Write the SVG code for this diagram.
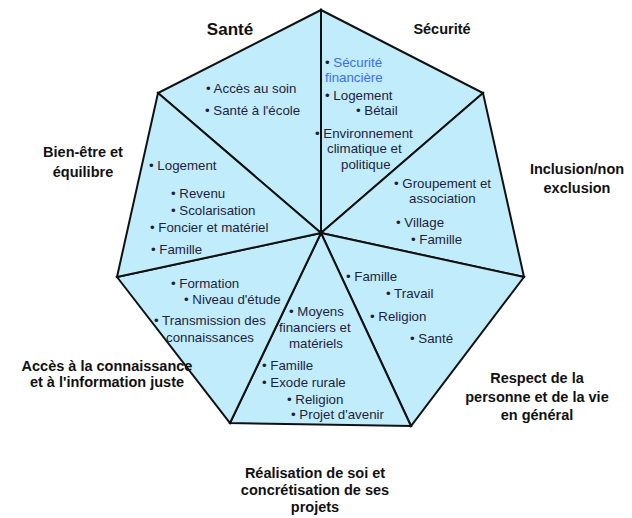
<svg xmlns="http://www.w3.org/2000/svg" width="632" height="518" viewBox="0 0 632 518">
<style>
.sec{fill:#c0ecfc;stroke:#111;stroke-width:2;stroke-linejoin:miter}
.it{font-family:"Liberation Sans",Arial,sans-serif;font-size:13.3px;fill:#1e1e3e}
.bl{fill:#3c6cf2}
.tt{font-family:"Liberation Sans",Arial,sans-serif;font-size:14.5px;font-weight:bold;fill:#111;text-anchor:middle}
</style>
<rect width="632" height="518" fill="#fff"/>
<g id="sante">
<polygon class="sec" points="321,233 158,93 321,10"/>
<text class="tt" x="230" y="35" style="font-size:17px">Santé</text>
<text class="it" x="206" y="93">• Accès au soin</text>
<text class="it" x="205" y="115">• Santé à l'école</text>
</g>
<g id="securite">
<polygon class="sec" points="321,233 321,10 483,93"/>
<text class="tt" x="442" y="34">Sécurité</text>
<text class="it" x="325" y="67"><tspan>•</tspan><tspan class="bl"> Sécurité</tspan></text>
<text class="it bl" x="325" y="82">financière</text>
<text class="it" x="325" y="100">• Logement</text>
<text class="it" x="356" y="115">• Bétail</text>
<text class="it" x="315" y="138">• Environnement</text>
<text class="it" x="327" y="153">climatique et</text>
<text class="it" x="341" y="169">politique</text>
</g>
<g id="inclusion">
<polygon class="sec" points="321,233 483,93 524,277"/>
<text class="tt" x="577" y="174">Inclusion/non</text>
<text class="tt" x="577" y="193">exclusion</text>
<text class="it" x="394" y="188">• Groupement et</text>
<text class="it" x="409" y="203">association</text>
<text class="it" x="396" y="227">• Village</text>
<text class="it" x="411" y="244">• Famille</text>
</g>
<g id="respect">
<polygon class="sec" points="321,233 524,277 411,426"/>
<text class="tt" x="537" y="383">Respect de la</text>
<text class="tt" x="537" y="402">personne et de la vie</text>
<text class="tt" x="537" y="420">en général</text>
<text class="it" x="346" y="281">• Famille</text>
<text class="it" x="386" y="298">• Travail</text>
<text class="it" x="370" y="321">• Religion</text>
<text class="it" x="410" y="343">• Santé</text>
</g>
<g id="realisation">
<polygon class="sec" points="321,233 411,426 230,423"/>
<text class="tt" x="315" y="478">Réalisation de soi et</text>
<text class="tt" x="315" y="495">concrétisation de ses</text>
<text class="tt" x="315" y="512">projets</text>
<text class="it" x="289" y="316">• Moyens</text>
<text class="it" x="279" y="332">financiers et</text>
<text class="it" x="289" y="348">matériels</text>
<text class="it" x="262" y="370">• Famille</text>
<text class="it" x="262" y="387">• Exode rurale</text>
<text class="it" x="287" y="404">• Religion</text>
<text class="it" x="291" y="419">• Projet d'avenir</text>
</g>
<g id="connaissance">
<polygon class="sec" points="321,233 230,423 117,277"/>
<text class="tt" x="107" y="371">Accès à la connaissance</text>
<text class="tt" x="107" y="387">et à l'information juste</text>
<text class="it" x="171" y="288">• Formation</text>
<text class="it" x="184" y="304">• Niveau d'étude</text>
<text class="it" x="154" y="325">• Transmission des</text>
<text class="it" x="166" y="342">connaissances</text>
</g>
<g id="bienetre">
<polygon class="sec" points="321,233 117,277 158,93"/>
<text class="tt" x="83" y="157">Bien-être et</text>
<text class="tt" x="83" y="177">équilibre</text>
<text class="it" x="149" y="170">• Logement</text>
<text class="it" x="171" y="198">• Revenu</text>
<text class="it" x="171" y="215">• Scolarisation</text>
<text class="it" x="150" y="232">• Foncier et matériel</text>
<text class="it" x="151" y="254">• Famille</text>
</g>
<g id="connectors"/>
</svg>
